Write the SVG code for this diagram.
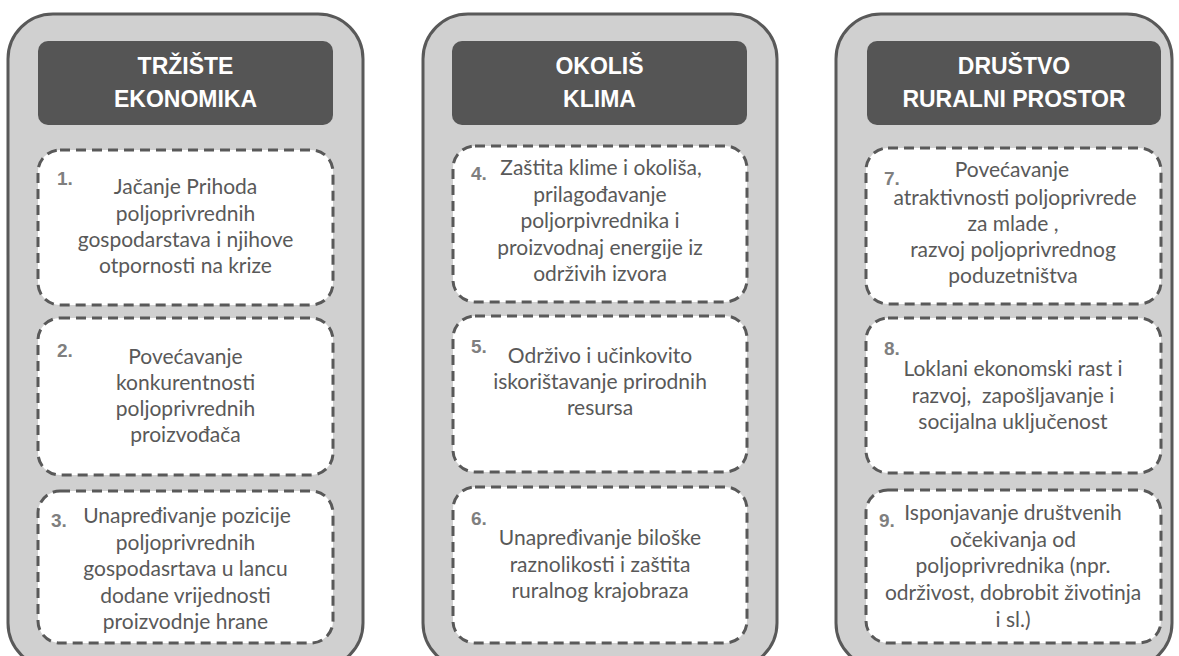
<svg xmlns="http://www.w3.org/2000/svg" width="1179" height="656" viewBox="0 0 1179 656">
<style>
.panel{fill:#d0d0d0;stroke:#595959;stroke-width:3}
.hdr{fill:#555555}
.htxt{font-family:"Liberation Sans",Arial,sans-serif;font-weight:bold;font-size:23px;fill:#ffffff;text-anchor:middle}
.box{fill:#ffffff;stroke:#595959;stroke-width:3;stroke-dasharray:10 6}
.txt{font-family:Lato,"Noto Sans",sans-serif;font-size:21px;fill:#595959;text-anchor:middle}
.num{font-family:"Liberation Sans",Arial,sans-serif;font-weight:bold;font-size:19px;fill:#7f7f7f}
</style>
<rect width="1179" height="656" fill="#ffffff"/>
<g id="col1">
<rect class="panel" x="8" y="14" width="355" height="654" rx="45"/>
<g id="hdr1"><rect class="hdr" x="38" y="41" width="295" height="84" rx="10"/>
<text class="htxt" x="185.5" y="74">TRŽIŠTE</text><text class="htxt" x="185.5" y="107">EKONOMIKA</text></g>
<g id="n1"><rect class="box" x="38" y="150" width="295" height="155" rx="22"/>
<text class="num" x="57" y="185">1.</text>
<text class="txt"><tspan x="185.5" y="194">Jačanje Prihoda</tspan><tspan x="185.5" y="221">poljoprivrednih</tspan><tspan x="185.5" y="247">gospodarstava i njihove</tspan><tspan x="185.5" y="273">otpornosti na krize</tspan></text></g>
<g id="n2"><rect class="box" x="38" y="318" width="295" height="157" rx="22"/>
<text class="num" x="57" y="357">2.</text>
<text class="txt"><tspan x="185.5" y="364">Povećavanje</tspan><tspan x="185.5" y="390">konkurentnosti</tspan><tspan x="185.5" y="416">poljoprivrednih</tspan><tspan x="185.5" y="442">proizvođača</tspan></text></g>
<g id="n3"><rect class="box" x="38" y="491" width="295" height="152" rx="22"/>
<text class="num" x="51" y="527">3.</text>
<text class="txt"><tspan x="187" y="523">Unapređivanje pozicije</tspan><tspan x="185.5" y="550">poljoprivrednih</tspan><tspan x="185.5" y="576">gospodasrtava u lancu</tspan><tspan x="185.5" y="603">dodane vrijednosti</tspan><tspan x="185.5" y="629">proizvodnje hrane</tspan></text></g>
</g>
<g id="col2">
<rect class="panel" x="423" y="14" width="354" height="654" rx="45"/>
<g id="hdr2"><rect class="hdr" x="452" y="41" width="295" height="84" rx="10"/>
<text class="htxt" x="599.5" y="74">OKOLIŠ</text><text class="htxt" x="599.5" y="107">KLIMA</text></g>
<g id="n4"><rect class="box" x="453" y="146" width="294" height="156" rx="22"/>
<text class="num" x="471" y="180">4.</text>
<text class="txt"><tspan x="601" y="175">Zaštita klime i okoliša,</tspan><tspan x="600" y="202">prilagođavanje</tspan><tspan x="600" y="228">poljorpivrednika i</tspan><tspan x="600" y="255">proizvodnaj energije iz</tspan><tspan x="600" y="281">održivih izvora</tspan></text></g>
<g id="n5"><rect class="box" x="453" y="316" width="294" height="156" rx="22"/>
<text class="num" x="471" y="353">5.</text>
<text class="txt"><tspan x="600" y="363">Održivo i učinkovito</tspan><tspan x="600" y="389">iskorištavanje prirodnih</tspan><tspan x="600" y="415">resursa</tspan></text></g>
<g id="n6"><rect class="box" x="453" y="487" width="294" height="156" rx="22"/>
<text class="num" x="471" y="525">6.</text>
<text class="txt"><tspan x="600" y="545">Unapređivanje biloške</tspan><tspan x="600" y="572">raznolikosti i zaštita</tspan><tspan x="600" y="598">ruralnog krajobraza</tspan></text></g>
</g>
<g id="col3">
<rect class="panel" x="836" y="14" width="336" height="654" rx="45"/>
<g id="hdr3"><rect class="hdr" x="867" y="41" width="294" height="84" rx="10"/>
<text class="htxt" x="1014" y="74">DRUŠTVO</text><text class="htxt" x="1014" y="107">RURALNI PROSTOR</text></g>
<g id="n7"><rect class="box" x="866" y="148" width="295" height="156" rx="22"/>
<text class="num" x="884" y="185">7.</text>
<text class="txt"><tspan x="1012" y="177">Povećavanje</tspan><tspan x="1015" y="205">atraktivnosti poljoprivrede</tspan><tspan x="1013" y="231">za mlade ,</tspan><tspan x="1013" y="257">razvoj poljoprivrednog</tspan><tspan x="1013" y="283">poduzetništva</tspan></text></g>
<g id="n8"><rect class="box" x="866" y="318" width="295" height="155" rx="22"/>
<text class="num" x="884" y="355">8.</text>
<text class="txt"><tspan x="1013" y="376">Loklani ekonomski rast i</tspan><tspan x="1013" y="403" xml:space="preserve">razvoj,  zapošljavanje i</tspan><tspan x="1013" y="429">socijalna uključenost</tspan></text></g>
<g id="n9"><rect class="box" x="866" y="490" width="295" height="153" rx="22"/>
<text class="num" x="879" y="527">9.</text>
<text class="txt"><tspan x="1013" y="520">Isponjavanje društvenih</tspan><tspan x="1013" y="547">očekivanja od</tspan><tspan x="1013" y="573">poljoprivrednika (npr.</tspan><tspan x="1013" y="600">održivost, dobrobit životinja</tspan><tspan x="1013" y="627">i sl.)</tspan></text></g>
</g>
<g id="connectors"/>
</svg>
